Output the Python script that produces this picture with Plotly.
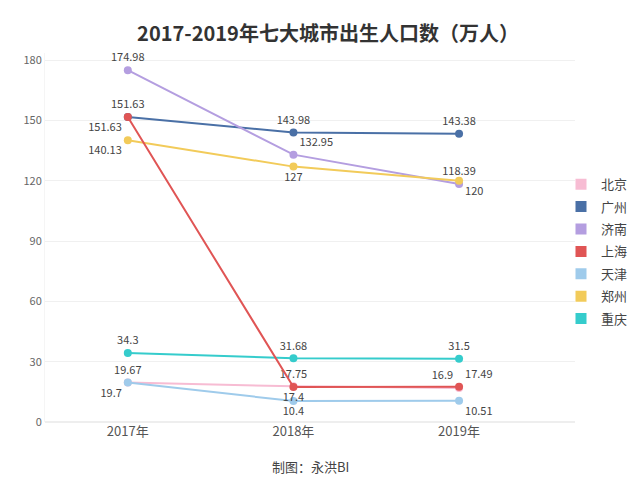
import plotly.graph_objects as go

years = ["2017年", "2018年", "2019年"]
beijing = [19.67, 17.75, 16.9]
guangzhou = [151.63, 143.98, 143.38]
jinan = [174.98, 132.95, 118.39]
shanghai = [151.63, 17.4, 17.49]
tianjin = [19.7, 10.4, 10.51]
zhengzhou = [140.13, 127, 120]
chongqing = [34.3, 31.68, 31.5]

series = [
    ("北京", beijing, "#f7bcd3", ["top center", "top center", "top left"]),
    ("广州", guangzhou, "#4a70a6", ["bottom left", "top center", "top center"]),
    ("济南", jinan, "#b49ee0", ["top center", "top right", "top center"]),
    ("郑州", zhengzhou, "#f2cb5a", ["bottom left", "bottom center", "bottom right"]),
    ("天津", tianjin, "#9fcbeb", ["bottom left", "bottom center", "bottom right"]),
    ("重庆", chongqing, "#35cccc", ["top center", "top center", "top center"]),
    ("上海", shanghai, "#e05555", ["top center", "bottom center", "top right"]),
]
legend_order = ["北京", "广州", "济南", "上海", "天津", "郑州", "重庆"]

fig = go.Figure()
for name, vals, color, pos in series:
    fig.add_trace(go.Scatter(
        x=years, y=vals, name=name, mode="lines+markers+text",
        line=dict(color=color, width=2),
        marker=dict(color=color, size=8),
        text=[str(v) for v in vals], textposition=pos,
        textfont=dict(size=11, color="#444"),
        showlegend=False,
        cliponaxis=False,
    ))

colors = {name: color for name, _, color, _ in series}
for i, name in enumerate(legend_order):
    fig.add_trace(go.Scatter(
        x=[None], y=[None], name=name, mode="markers",
        marker=dict(color=colors[name], size=11, symbol="square"),
        legendrank=i + 1, legendgroup=name, showlegend=True,
    ))

font_family = "Noto Sans CJK SC, Noto Sans, sans-serif"
fig.update_layout(
    width=640, height=492,
    margin=dict(l=37, r=73, t=45, b=78, autoexpand=False),
    paper_bgcolor="white", plot_bgcolor="white",
    font=dict(family=font_family, color="#444"),
    title=dict(text="<b>2017-2019年七大城市出生人口数（万人）</b>", x=0.5, xanchor="center",
               y=1 - 26 / 492, yanchor="middle", font=dict(size=20, color="#333")),
    showlegend=True,
    legend=dict(x=(553 - 37) / 530, xanchor="left", y=0.685, yanchor="top",
                font=dict(size=13, color="#444"), itemwidth=30, tracegroupgap=2.5,
                bgcolor="rgba(0,0,0,0)"),
    xaxis=dict(range=[-0.5, 2.7], showgrid=False, zeroline=False, showline=False,
               ticks="", tickfont=dict(size=13, color="#555")),
    yaxis=dict(range=[0, 183.5], tickvals=[0, 30, 60, 90, 120, 150, 180],
               gridcolor="#f0f0f0", zeroline=True, zerolinecolor="#eeeeee",
               showline=True, linecolor="#f5f5f5",
               tickfont=dict(size=11, color="#666")),
    annotations=[dict(text="制图：永洪BI", x=0.5, xref="paper", xanchor="center",
                      y=-(458 - 414) / 369, yref="paper", yanchor="middle", showarrow=False,
                      font=dict(size=13, color="#444"))],
)

fig.write_html("out.html")
